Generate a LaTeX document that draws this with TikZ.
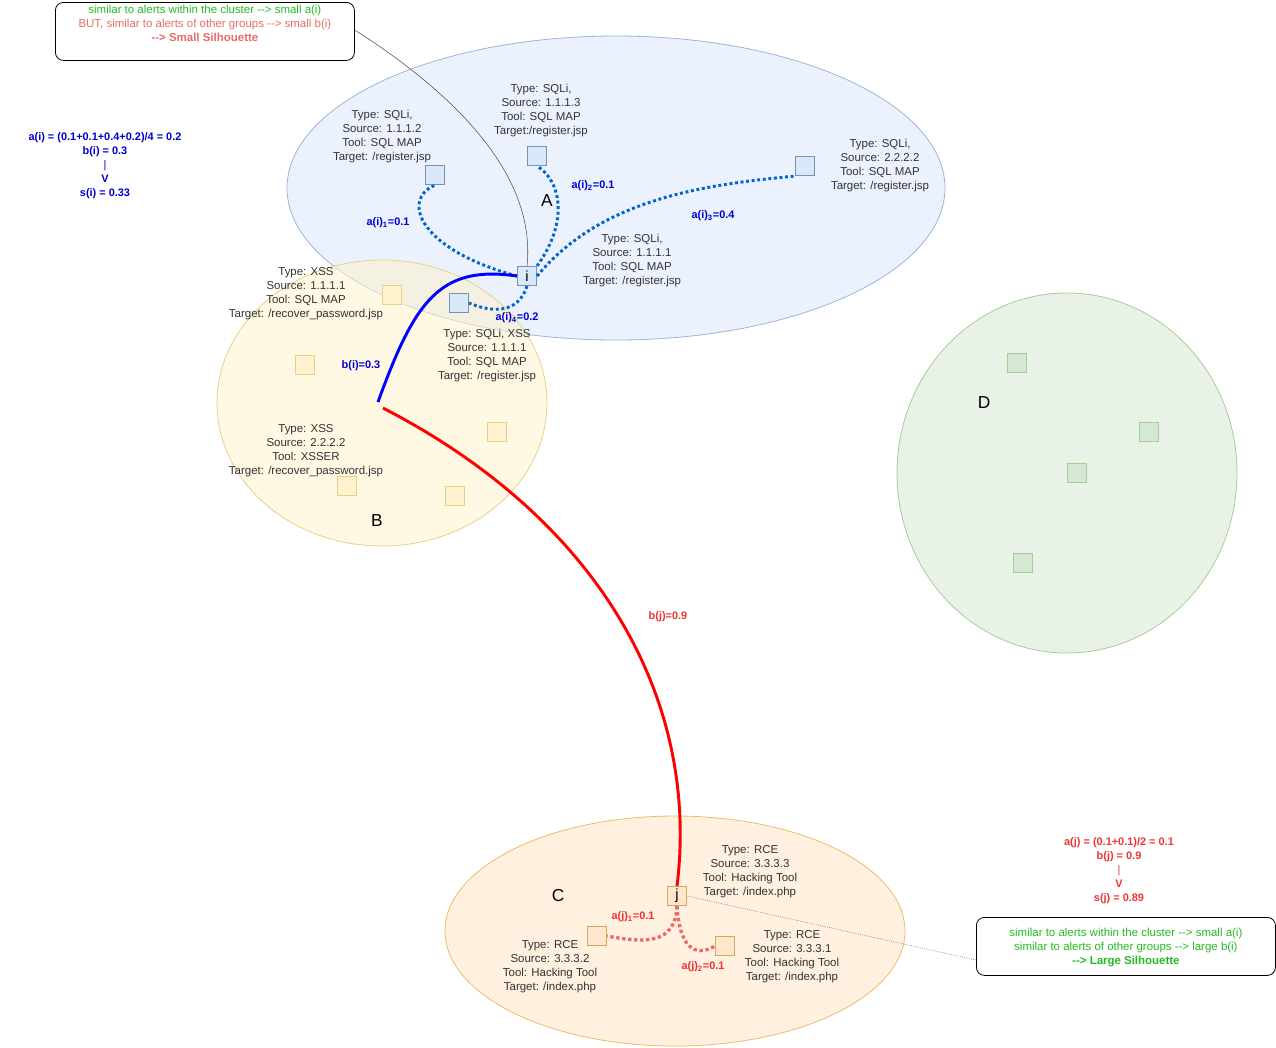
\documentclass[tikz,border=0pt]{standalone}
\usepackage{fontspec}
\setmainfont{Liberation Sans}
\usetikzlibrary{positioning}
\definecolor{bluefill}{HTML}{DAE8FC}
\definecolor{bluedraw}{HTML}{9CB4D8}
\definecolor{yelfill}{HTML}{FFF2CC}
\definecolor{yeldraw}{HTML}{E6D08C}
\definecolor{orafill}{HTML}{FFE6CC}
\definecolor{oradraw}{HTML}{E8BE66}
\definecolor{grnfill}{HTML}{D5E8D4}
\definecolor{grndraw}{HTML}{A8CC96}
\definecolor{dotblue}{HTML}{0066CC}
\definecolor{lblblue}{HTML}{0000CC}
\definecolor{lblred}{HTML}{EA3434}
\definecolor{lblgreen}{HTML}{22BB22}
\definecolor{pinkred}{HTML}{EA6B66}
\newcommand{\arw}{-{}->}
\tikzset{
  txt/.style={font=\fontsize{8.6}{10.5}\selectfont, align=center, text=black!80, inner sep=0pt},
  alert/.style={draw, minimum size=14.5pt, inner sep=0pt, font=\fontsize{11}{11}\selectfont},
  clusterlbl/.style={font=\fontsize{13}{13}\selectfont},
  dist/.style={font=\bfseries\fontsize{8.2}{10}\selectfont, inner sep=0pt},
  calc/.style={text=#1, align=center, inner sep=0pt, font=\bfseries\fontsize{8.2}{10.5}\selectfont},
  callout/.style={draw, rounded corners=6pt, minimum width=299*0.75pt, minimum height=58*0.75pt, inner sep=0pt, anchor=north west},
  callouttxt/.style={align=center, inner sep=0pt, anchor=north, font=\fontsize{8.6}{10.5}\selectfont},
}
\begin{document}
\begin{tikzpicture}[x=0.75pt,y=-0.75pt,semithick]
  \useasboundingbox (0,0) rectangle (1276,1047);

  % clusters
  \draw[bluedraw, fill=bluefill, fill opacity=0.55] (616,188) ellipse (329 and 152);
  \draw[yeldraw, fill=yelfill, fill opacity=0.55] (382,403) ellipse (165 and 143);
  \draw[oradraw, fill=orafill, fill opacity=0.6] (675,931) ellipse (230 and 115);
  \draw[grndraw, fill=grnfill, fill opacity=0.55] (1067,473) ellipse (170 and 180);
  \node[clusterlbl] (A) at (547,201) {A};
  \node[clusterlbl] (B) at (377,521) {B};
  \node[clusterlbl] (C) at (558,896) {C};
  \node[clusterlbl] (D) at (984,403) {D};

  % alerts of A
  \node[alert, draw=bluedraw!80!black, fill=bluefill] (i) at (527,276) {i};
  \node[alert, draw=bluedraw!80!black, fill=bluefill] (a1) at (435,175) {};
  \node[alert, draw=bluedraw!80!black, fill=bluefill] (a2) at (537,156) {};
  \node[alert, draw=bluedraw!80!black, fill=bluefill] (a3) at (805,166) {};
  \node[alert, draw=bluedraw!80!black, fill=bluefill] (a4) at (459,303) {};
  % alerts of B
  \node[alert, draw=yeldraw, fill=yelfill] (b1) at (392,295) {};
  \node[alert, draw=yeldraw, fill=yelfill] (b2) at (305,365) {};
  \node[alert, draw=yeldraw, fill=yelfill] (b3) at (497,432) {};
  \node[alert, draw=yeldraw, fill=yelfill] (b4) at (347,486) {};
  \node[alert, draw=yeldraw, fill=yelfill] (b5) at (455,496) {};
  % alerts of C
  \node[alert, draw=oradraw!90!black, fill=orafill] (j) at (677,896) {j};
  \node[alert, draw=oradraw!90!black, fill=orafill] (c1) at (597,936) {};
  \node[alert, draw=oradraw!90!black, fill=orafill] (c2) at (725,946) {};
  % alerts of D
  \node[alert, draw=grndraw, fill=grnfill] (d1) at (1017,363) {};
  \node[alert, draw=grndraw, fill=grnfill] (d2) at (1149,432) {};
  \node[alert, draw=grndraw, fill=grnfill] (d3) at (1077,473) {};
  \node[alert, draw=grndraw, fill=grnfill] (d4) at (1023,563) {};

  % alert descriptions
  \node[txt] (ta1) at (382,137) {Type: SQLi,\\Source: 1.1.1.2\\Tool: SQL MAP\\Target: /register.jsp};
  \node[txt] (ta2) at (541,111) {Type: SQLi,\\Source: 1.1.1.3\\Tool: SQL MAP\\Target:/register.jsp};
  \node[txt] (ta3) at (880,166) {Type: SQLi,\\Source: 2.2.2.2\\Tool: SQL MAP\\Target: /register.jsp};
  \node[txt] (ti) at (632,261) {Type: SQLi,\\Source: 1.1.1.1\\Tool: SQL MAP\\Target: /register.jsp};
  \node[txt] (ta4) at (487,356) {Type: SQLi, XSS\\Source: 1.1.1.1\\Tool: SQL MAP\\Target: /register.jsp};
  \node[txt] (tb1) at (306,294) {Type: XSS\\Source: 1.1.1.1\\Tool: SQL MAP\\Target: /recover\_password.jsp};
  \node[txt] (tb4) at (306,451) {Type: XSS\\Source: 2.2.2.2\\Tool: XSSER\\Target: /recover\_password.jsp};
  \node[txt] (tj) at (750,872) {Type: RCE\\Source: 3.3.3.3\\Tool: Hacking Tool\\Target: /index.php};
  \node[txt] (tc1) at (550,967) {Type: RCE\\Source: 3.3.3.2\\Tool: Hacking Tool\\Target: /index.php};
  \node[txt] (tc2) at (792,957) {Type: RCE\\Source: 3.3.3.1\\Tool: Hacking Tool\\Target: /index.php};

  % intra-cluster distances
  \draw[dotblue, line width=2.2pt, dotted] (i.west) .. controls (420,250) and (400,200) .. (a1.south);
  \draw[dotblue, line width=2.2pt, dotted] (i.north east) .. controls (570,220) and (560,180) .. (a2.south);
  \draw[dotblue, line width=2.2pt, dotted] (i.east) .. controls (600,200) and (700,185) .. (a3.south west);
  \draw[dotblue, line width=2.2pt, dotted] (i.south) .. controls (518,315) and (490,312) .. (a4.east);
  \draw[pinkred, line width=2.5pt, dotted] (j.south) .. controls (675,945) and (645,943) .. (c1.east);
  \draw[pinkred, line width=2.5pt, dotted] (j.south) .. controls (680,955) and (700,955) .. (c2.west);
  \node[dist, text=lblblue] (ai1) at (388,223) {a(i)\textsubscript{1}=0.1};
  \node[dist, text=lblblue] (ai2) at (593,186) {a(i)\textsubscript{2}=0.1};
  \node[dist, text=lblblue] (ai3) at (713,216) {a(i)\textsubscript{3}=0.4};
  \node[dist, text=lblblue] (ai4) at (517,318) {a(i)\textsubscript{4}=0.2};
  \node[dist, text=lblred] (aj1) at (633,917) {a(j)\textsubscript{1}=0.1};
  \node[dist, text=lblred] (aj2) at (703,967) {a(j)\textsubscript{2}=0.1};

  % nearest-cluster distances
  \coordinate (bb) at (378,402);
  \coordinate (bs) at (383,408);
  \draw[blue, line width=2.2pt] (i.west) .. controls (440,265) and (415,300) .. (bb);
  \draw[red, line width=2.2pt] (bs) .. controls (600,520) and (700,700) .. (j.north);
  \node[dist, text=lblblue] (bi) at (361,366) {b(i)=0.3};
  \node[dist, text=lblred] (bj) at (668,617) {b(j)=0.9};

  % silhouette calculations
  \node[calc=lblblue] (si) at (105,166)
    {a(i) = (0.1+0.1+0.4+0.2)/4 = 0.2\\b(i) = 0.3\\{\mdseries|}\\V\\s(i) = 0.33};
  \node[calc=lblred] (sj) at (1119,871)
    {a(j) = (0.1+0.1)/2 = 0.1\\b(j) = 0.9\\{\mdseries|}\\V\\s(j) = 0.89};

  % callouts
  \node[callout] (smallbox) at (55,2) {};
  \node[callouttxt] (smalltxt) at ([yshift=-2pt]smallbox.north)
    {\textcolor{lblgreen}{similar to alerts within the cluster \arw{} small a(i)}\\
     \textcolor{pinkred}{BUT, similar to alerts of other groups \arw{} small b(i)}\\
     \textcolor{pinkred}{\bfseries \arw{} Small Silhouette}};
  \node[callout] (largebox) at (976,917) {};
  \node[callouttxt] (largetxt) at ([yshift=-8pt]largebox.north)
    {\textcolor{lblgreen}{similar to alerts within the cluster \arw{} small a(i)}\\
     \textcolor{lblgreen}{similar to alerts of other groups \arw{} large b(i)}\\
     \textcolor{lblgreen}{\bfseries \arw{} Large Silhouette}};
  \draw[thin, black!70] (smallbox.east |- 0,30) .. controls (480,110) and (535,190) .. (i.north);
  \draw[thin, black!70, densely dotted] (j.east) -- (largebox.west |- 0,960);
\end{tikzpicture}
\end{document}
